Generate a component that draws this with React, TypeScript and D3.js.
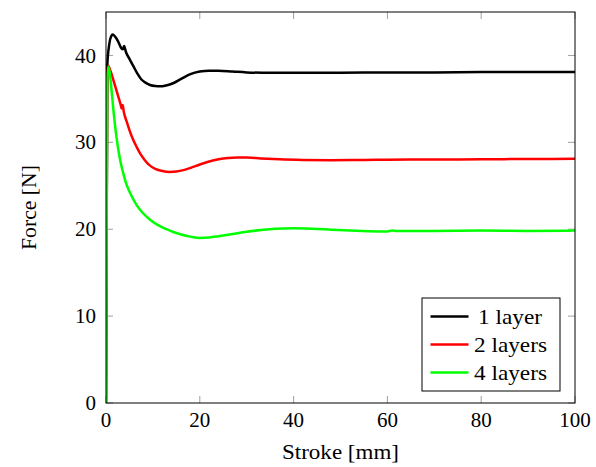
import React from "react";
import * as d3 from "d3";

const xTicks = [0, 20, 40, 60, 80, 100];
const yTicks = [0, 10, 20, 30, 40];

const seriesNames = ["1 layer", "2 layers", "4 layers"];
const seriesColors = ["#000000", "#ff0000", "#00ff00"];

const oneLayerX = [0, 0.28, 0.7, 1.1, 1.45, 1.9, 2.6, 3.3, 3.6, 3.85, 4.25, 5.0, 5.8, 6.7, 7.6, 8.5, 9.4, 10.5, 11.5, 12.8, 14.3, 16, 18, 20, 22, 24, 27, 30, 35, 40, 50, 60, 70, 80, 90, 100];
const oneLayerY = [0, 38.9, 41.3, 42.2, 42.4, 42.2, 41.6, 40.8, 40.7, 41.1, 40.4, 39.6, 38.8, 37.9, 37.2, 36.85, 36.6, 36.48, 36.45, 36.55, 36.8, 37.3, 37.85, 38.15, 38.25, 38.25, 38.15, 38.05, 38.0, 38.0, 38.0, 38.05, 38.05, 38.1, 38.1, 38.1];

const twoLayersX = [0, 0.25, 0.5, 0.9, 1.56, 2.1, 2.6, 3.1, 3.35, 3.55, 3.8, 4.4, 5.0, 5.7, 6.5, 7.3, 8.2, 9.2, 10.5, 12, 13.6, 15, 16.5, 18, 20, 22, 24, 26, 28, 30, 33, 37, 42, 48, 55, 60, 70, 80, 90, 100];
const twoLayersY = [0, 37.8, 38.8, 38.3, 37.2, 36.2, 35.3, 34.4, 33.9, 34.3, 33.5, 32.4, 31.4, 30.4, 29.5, 28.7, 28.0, 27.4, 26.95, 26.7, 26.6, 26.65, 26.8, 27.05, 27.45, 27.8, 28.05, 28.2, 28.25, 28.25, 28.15, 28.05, 27.98, 27.95, 27.98, 28.0, 28.02, 28.05, 28.08, 28.1];

const fourLayersX = [0, 0.25, 0.5, 0.8, 1.2, 1.6, 2.0, 2.5, 3.0, 3.6, 4.4, 5.3, 6.5, 7.8, 9.4, 11, 12.9, 14.5, 16, 18, 20, 22, 24, 27, 30, 33, 36, 40, 44, 48, 52, 56, 60, 61, 62, 70, 80, 90, 100];
const fourLayersY = [0, 37.0, 38.7, 38.0, 35.9, 33.6, 31.6, 29.6, 28.0, 26.6, 25.1, 24.0, 22.8, 21.9, 21.1, 20.5, 20.0, 19.65, 19.4, 19.15, 19.0, 19.05, 19.2, 19.45, 19.7, 19.9, 20.05, 20.1, 20.05, 19.95, 19.85, 19.78, 19.75, 19.85, 19.8, 19.8, 19.85, 19.8, 19.85];

const legendTextWidths = [64, 73, 73];

const seriesX = [oneLayerX, twoLayersX, fourLayersX];
const seriesY = [oneLayerY, twoLayersY, fourLayersY];

const W = 596;
const H = 467;
const M = { left: 106, right: 575, top: 12, bottom: 403 };
const FONT = "Liberation Serif";

export default function App() {
  const x = d3.scaleLinear().domain([0, 100]).range([M.left, M.right]);
  const y = d3.scaleLinear().domain([0, 45]).range([M.bottom, M.top]);
  const line = d3
    .line<[number, number]>()
    .x((d) => x(d[0]))
    .y((d) => y(d[1]))
    .curve(d3.curveMonotoneX);

  const tickLen = 7;
  const tickColor = "#a0a0a0";

  const legX = 422;
  const legY = 298;
  const legW = 138;
  const legH = 93;
  const ts = { fontFamily: FONT, fontSize: "21px" } as React.CSSProperties;

  return (
    <svg
      width={W}
      height={H}
      style={{ position: "absolute", left: 0, top: 0, fontFamily: FONT }}
    >
      <rect x={0} y={0} width={W} height={H} fill="#fff" />
      <defs>
        <clipPath id="plotclip">
          <rect x={M.left} y={M.top} width={M.right - M.left} height={M.bottom - M.top} />
        </clipPath>
      </defs>
      {xTicks.map((t) => (
        <g key={"xt" + t}>
          <line x1={x(t)} x2={x(t)} y1={M.bottom} y2={M.bottom - tickLen} stroke={tickColor} strokeWidth={1} />
          <line x1={x(t)} x2={x(t)} y1={M.top} y2={M.top + tickLen} stroke={tickColor} strokeWidth={1} />
          <text x={x(t)} y={427} textAnchor="middle" style={ts} fill="#000">
            {t}
          </text>
        </g>
      ))}
      {yTicks.map((t) => (
        <g key={"yt" + t}>
          <line x1={M.left} x2={M.left + tickLen} y1={y(t)} y2={y(t)} stroke={tickColor} strokeWidth={1} />
          <line x1={M.right} x2={M.right - tickLen} y1={y(t)} y2={y(t)} stroke={tickColor} strokeWidth={1} />
          <text x={96} y={y(t)} dy="0.34em" textAnchor="end" style={ts} fill="#000">
            {t}
          </text>
        </g>
      ))}
      <g clipPath="url(#plotclip)">
        {seriesX.map((xs, i) => {
          const pts: [number, number][] = xs.map((v, j) => [v, seriesY[i][j]]);
          return (
            <path
              key={seriesNames[i]}
              d={line(pts) || ""}
              fill="none"
              stroke={seriesColors[i]}
              strokeWidth={2.5}
              strokeLinejoin="round"
            />
          );
        })}
      </g>
      <rect
        x={M.left}
        y={M.top}
        width={M.right - M.left}
        height={M.bottom - M.top}
        fill="none"
        stroke="#000"
        strokeWidth={1}
      />
      <g>
        <rect x={legX} y={legY} width={legW} height={legH} fill="#fff" stroke="#000" strokeWidth={1} />
        {seriesNames.map((n, i) => {
          const cy = legY + 18.5 + i * 28;
          const tx = i === 0 ? 478 : 474;
          return (
            <g key={"leg" + n}>
              <line x1={430.5} x2={468.5} y1={cy} y2={cy} stroke={seriesColors[i]} strokeWidth={2.5} />
              <text
                x={tx}
                y={cy}
                dy="0.34em"
                style={ts}
                textLength={legendTextWidths[i]}
                lengthAdjust="spacingAndGlyphs"
                fill="#000"
              >
                {n}
              </text>
            </g>
          );
        })}
      </g>
      <text
        x={(M.left + M.right) / 2}
        y={459}
        textAnchor="middle"
        style={ts}
        textLength={117}
        lengthAdjust="spacingAndGlyphs"
        fill="#000"
      >
        Stroke [mm]
      </text>
      <text
        transform={`translate(36, ${(M.top + M.bottom) / 2}) rotate(-90)`}
        textAnchor="middle"
        style={ts}
        textLength={85}
        lengthAdjust="spacingAndGlyphs"
        fill="#000"
      >
        Force [N]
      </text>
    </svg>
  );
}
